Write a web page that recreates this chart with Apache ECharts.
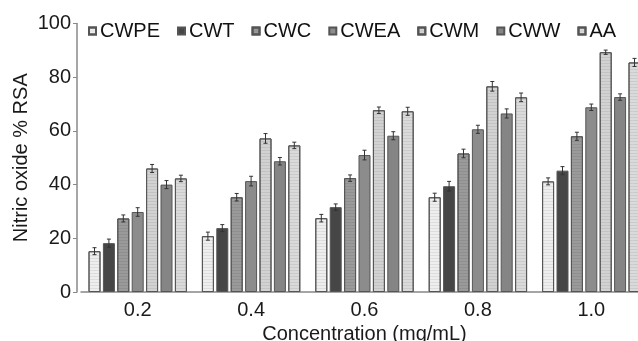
<!DOCTYPE html>
<html lang="en">
<head>
    <meta charset="UTF-8">
    <title>Nitric oxide RSA</title>
    <script src="https://cdn.jsdelivr.net/npm/echarts@6/dist/echarts.min.js"></script>
</head>
<body style="margin: 0">
<div id="main" style="width: 638px;height: 341px"></div>
<script>
    // concentrations (mg/mL)
    const categories = ['0.2', '0.4', '0.6', '0.8', '1.0'];
    const names = ['CWPE', 'CWT', 'CWC', 'CWEA', 'CWM', 'CWW', 'AA'];
    const yTicks = [0, 20, 40, 60, 80, 100];

    // % RSA per extract
    const cwpe = [15.2, 20.8, 27.5, 35.3, 41.2];
    const cwt = [18.2, 23.8, 31.6, 39.4, 45.2];
    const cwc = [27.4, 35.3, 42.4, 51.6, 58.0];
    const cwea = [29.8, 41.3, 51.0, 60.6, 68.8];
    const cwm = [46.0, 57.2, 67.7, 76.6, 89.3];
    const cww = [40.0, 48.7, 58.2, 66.5, 72.6];
    const aa = [42.3, 54.6, 67.3, 72.5, 85.5];

    // error bar half-widths
    const cwpeErr = [1.3, 1.5, 1.4, 1.5, 1.3];
    const cwtErr = [1.5, 1.3, 1.2, 1.8, 1.5];
    const cwcErr = [1.3, 1.4, 1.2, 1.6, 1.5];
    const cweaErr = [1.6, 1.8, 1.8, 1.5, 1.2];
    const cwmErr = [1.5, 1.8, 1.2, 1.8, 0.8];
    const cwwErr = [1.5, 1.4, 1.5, 1.7, 1.2];
    const aaErr = [1.2, 1.2, 1.5, 1.6, 1.5];

    const values = [cwpe, cwt, cwc, cwea, cwm, cww, aa];
    const errors = [cwpeErr, cwtErr, cwcErr, cweaErr, cwmErr, cwwErr, aaErr];
    const colors = ['#eeeeee', '#464646', '#9a9a9a', '#8c8c8c', '#d2d2d2', '#858585', '#dadada'];
    const striped = [true, false, true, false, true, false, true];

    const BAR_W = 12;
    const BAR_GAP = 0.2;

    const chart = echarts.init(document.getElementById('main'));

    const series = [];
    names.forEach(function (name, i) {
        const itemStyle = {
            color: colors[i],
            borderColor: '#555',
            borderWidth: 1
        };
        if (striped[i]) {
            itemStyle.decal = {
                symbol: 'rect',
                dashArrayX: [1, 0],
                dashArrayY: [1, 2],
                color: 'rgba(0,0,0,0.07)'
            };
        }
        series.push({
            name: name,
            type: 'bar',
            barWidth: BAR_W,
            barGap: (BAR_GAP * 100) + '%',
            data: values[i],
            itemStyle: itemStyle
        });
    });

    names.forEach(function (name, i) {
        series.push({
            name: name + ' err',
            type: 'custom',
            data: values[i].map(function (v, k) { return [k, v, errors[i][k]]; }),
            z: 5,
            renderItem: function (params, api) {
                const k = api.value(0);
                const v = api.value(1);
                const e = api.value(2);
                const pitch = BAR_W * (1 + BAR_GAP);
                const dx = (i - (names.length - 1) / 2) * pitch;
                const hi = api.coord([k, v + e]);
                const lo = api.coord([k, v - e]);
                const x = hi[0] + dx;
                const style = {stroke: '#333', lineWidth: 1};
                return {
                    type: 'group',
                    children: [
                        {type: 'line', shape: {x1: x, y1: hi[1], x2: x, y2: lo[1]}, style: style},
                        {type: 'line', shape: {x1: x - 2, y1: hi[1], x2: x + 2, y2: hi[1]}, style: style},
                        {type: 'line', shape: {x1: x - 2, y1: lo[1], x2: x + 2, y2: lo[1]}, style: style}
                    ]
                };
            }
        });
    });

    const option = {
        animation: false,
        textStyle: {fontFamily: 'Liberation Sans, Arial, sans-serif'},
        legend: {
            data: names,
            left: 83,
            top: 16,
            icon: 'rect',
            itemWidth: 7,
            itemHeight: 7,
            itemGap: 17,
            textStyle: {fontSize: 20, color: '#111', padding: [0, 0, 0, -1]}
        },
        grid: {left: 81, top: 23.5, width: 567, height: 268.5, outerBoundsMode: 'none', containLabel: false},
        xAxis: {
            type: 'category',
            data: categories,
            axisTick: {show: false},
            axisLine: {lineStyle: {color: '#888', width: 1.5}},
            axisLabel: {fontSize: 20, color: '#1a1a1a', margin: 8},
            name: 'Concentration (mg/mL)',
            nameLocation: 'middle',
            nameGap: 32,
            nameMoveOverlap: false,
            nameTextStyle: {fontSize: 20, color: '#1a1a1a'}
        },
        yAxis: {
            type: 'value',
            min: 0,
            max: 100,
            interval: 20,
            offset: 4,
            splitLine: {show: false},
            axisLine: {show: true, lineStyle: {color: '#888', width: 1.5}},
            axisTick: {show: true, length: 4, lineStyle: {color: '#888'}},
            axisLabel: {
                fontSize: 20, color: '#1a1a1a', margin: 6,
                formatter: function (v) { return yTicks.indexOf(v) >= 0 ? String(v) : ''; }
            },
            name: 'Nitric oxide % RSA',
            nameLocation: 'middle',
            nameGap: 46,
            nameMoveOverlap: false,
            nameTextStyle: {fontSize: 20, color: '#1a1a1a'}
        },
        series: series
    };

    chart.setOption(option);
</script>
</body>
</html>
